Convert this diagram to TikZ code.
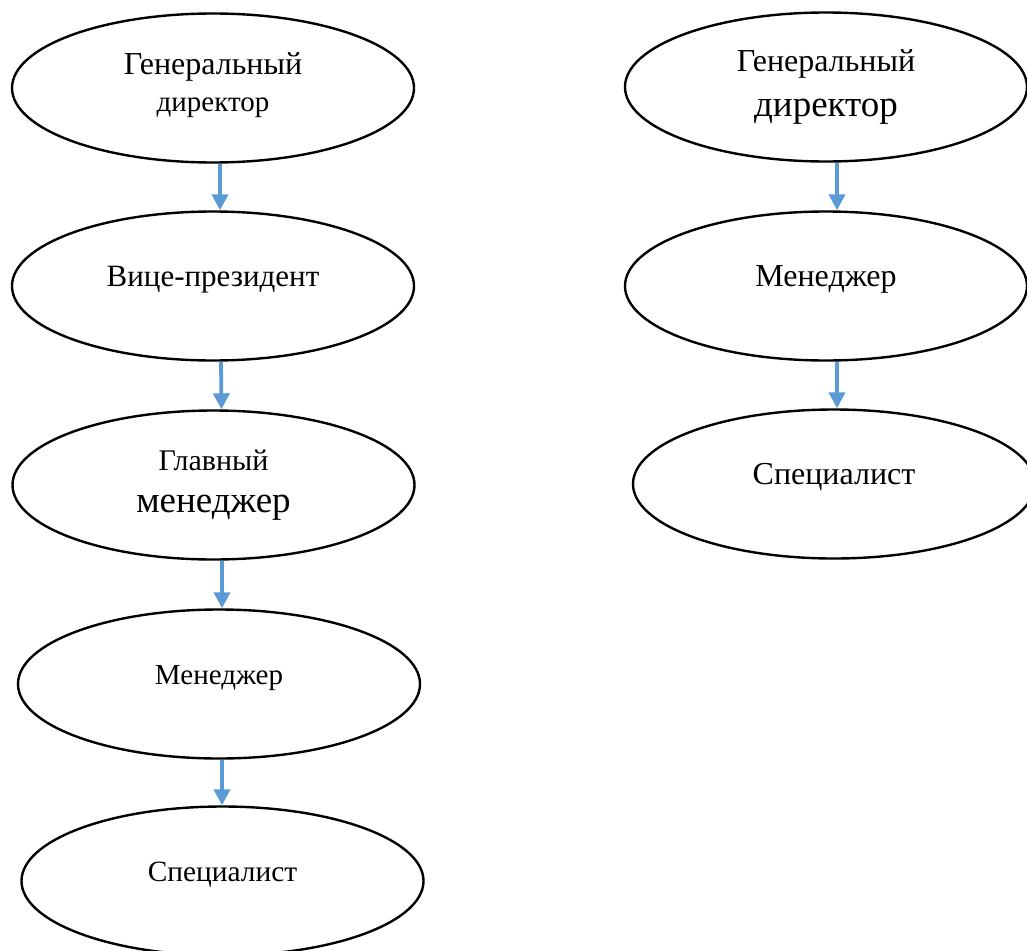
\documentclass[tikz,border=0pt]{standalone}
\usepackage{fontspec}
\setmainfont{Liberation Serif}
\usetikzlibrary{shapes.geometric,arrows.meta}

\definecolor{linkblue}{RGB}{91,155,213}
\newcommand{\fsz}[2]{\fontsize{#1}{#2}\selectfont}

\tikzset{
    post/.style={ellipse, draw, line width=2.4pt, minimum width=402pt,
        minimum height=149pt, inner sep=0pt, align=center},
    oneline/.style={text height=12pt, text depth=12pt}
}

\begin{document}
\begin{tikzpicture}[x=1pt,y=-1pt]
    \useasboundingbox (0,0) rectangle (1027,950);

    % left chart
    \node[post,font=\fsz{32}{37},text depth=11pt] (gd) at (213,88) {Генеральный\\\fsz{29}{37}директор};
    \node[post,oneline,font=\fsz{31}{37}] (vp) at (213,286) {Вице-президент};
    \node[post,font=\fsz{30}{42}] (gm) at (213.5,485) {Главный\\\fsz{37}{42}менеджер};
    \node[post,oneline,font=\fsz{29}{35}] (mn) at (219,684) {Менеджер};
    \node[post,oneline,font=\fsz{29.4}{35}] (sp) at (222.5,881) {Специалист};

    % right chart
    \node[post,font=\fsz{32}{45}] (gdr) at (826,87) {Генеральный\\\fsz{37}{45}директор};
    \node[post,oneline,font=\fsz{32}{37}] (mnr) at (826,286) {Менеджер};
    \node[post,oneline,font=\fsz{32}{37}] (spr) at (834,484) {Специалист};

    \path[color=linkblue, line width=3.8pt, -{Triangle[length=16pt,width=16pt]}]
    ([xshift=7pt]gd.south)  edge ([xshift=7pt]vp.north)
    ([xshift=8pt]vp.south)  edge ([xshift=8pt]gm.north)
    ([xshift=8.5pt]gm.south) edge ([xshift=3pt]mn.north)
    ([xshift=3pt]mn.south)  edge ([xshift=-0.5pt]sp.north)
    ([xshift=11pt]gdr.south) edge ([xshift=11pt]mnr.north)
    ([xshift=11pt]mnr.south) edge ([xshift=3pt]spr.north);
\end{tikzpicture}
\end{document}
